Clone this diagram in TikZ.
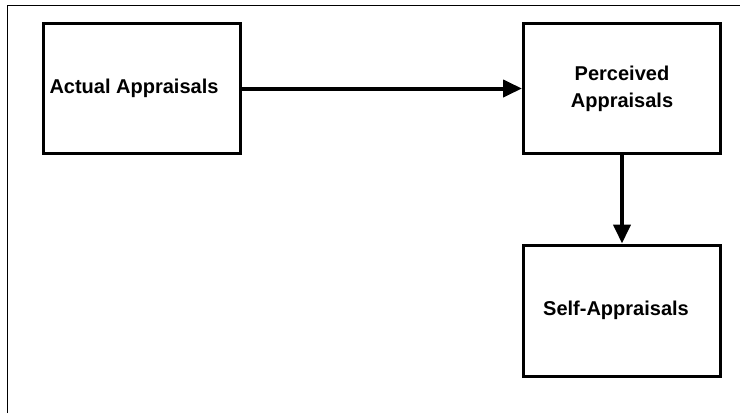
\documentclass[tikz,border=0pt]{standalone}
\usepackage{fontspec}
\setmainfont{Liberation Sans}
\usetikzlibrary{arrows.meta}

\begin{document}
\begin{tikzpicture}[x=1pt,y=-1pt,
  appbox/.style={draw,line width=3pt,minimum width=197pt,minimum height=130pt,
    align=center,font=\fontsize{20}{27}\selectfont\bfseries},
  link/.style={line width=4pt,-{Triangle[length=19pt,width=17pt]}}]
  \useasboundingbox (0,0) rectangle (740,413);
  \draw[line width=1pt] (7,413) -- (7,5) -- (740,5);
  \node[appbox] (actual) at (142,88.5) {Actual Appraisals\hspace*{16pt}};
  \node[appbox] (perceived) at (622,88.5) {Perceived\\Appraisals};
  \node[appbox,minimum height=131pt] (self) at (622,310.5) {Self-Appraisals\hspace*{12pt}};
  \draw[link] (actual) -- (perceived);
  \draw[link] (perceived) -- (self);
\end{tikzpicture}
\end{document}
